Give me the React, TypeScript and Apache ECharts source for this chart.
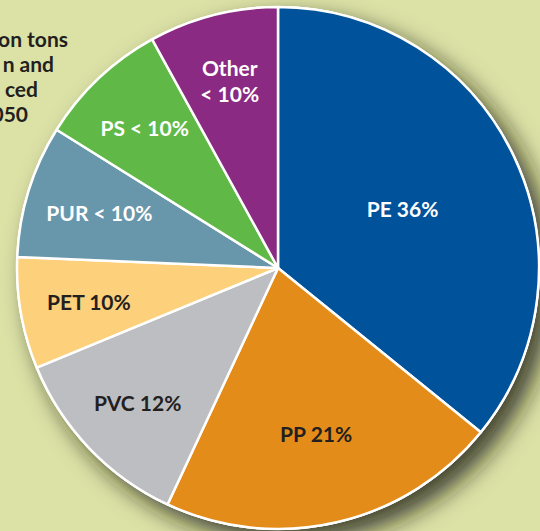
import React, { useEffect, useRef } from "react";
import * as echarts from "echarts";

const categories = ["PE", "PP", "PVC", "PET", "PUR", "PS", "Other"];
const values = [35.8, 21.1, 11.8, 6.9, 8.2, 8.1, 8.0];
const labelTexts = ["PE 36%", "PP 21%", "PVC 12%", "PET 10%", "PUR < 10%", "PS < 10%", "Other\n< 10%"];
const noteLines = ["on tons", "n and", "ced", "050"];

const colors = ["#00529b", "#e38c1a", "#bdbec2", "#fdd07b", "#6896ab", "#60b946", "#8a2a82"];
const labelColors = ["#ffffff", "#231f20", "#231f20", "#231f20", "#ffffff", "#ffffff", "#ffffff"];
const labelRadius = [138, 170, 194, 192, 187, 194, 194];

const CX = 278;
const CY = 268;
const R = 261;

export default function App() {
  const ref = useRef<HTMLDivElement>(null);
  useEffect(() => {
    if (!ref.current) return;
    const chart = echarts.init(ref.current, undefined, { renderer: "svg" });
    const total = values.reduce((a, b) => a + b, 0);
    const mids: number[] = [];
    let acc = 0;
    values.forEach((v) => {
      mids.push(((acc + v / 2) / total) * 2 * Math.PI);
      acc += v;
    });
    const noteRight = [68, 54, 38, 28];
    const noteBase = [49, 74, 99, 124];
    chart.setOption({
      animation: false,
      backgroundColor: "#dce2a6",
      graphic: noteLines.map((t, i) => ({
        type: "text",
        x: noteRight[i],
        y: noteBase[i],
        style: {
          text: t,
          align: "right",
          verticalAlign: "bottom",
          fill: "#231f20",
          font: "bold 21px Lato",
        },
      })),
      series: [
        {
          type: "pie",
          silent: true,
          z: 1,
          center: [CX, CY],
          radius: R + 1,
          label: { show: false },
          labelLine: { show: false },
          data: [{ value: 1, itemStyle: { color: "#ffffff" } }],
          itemStyle: {
            shadowBlur: 24,
            shadowOffsetX: 12,
            shadowOffsetY: 12,
            shadowColor: "rgba(30,30,10,0.8)",
          },
        },
        {
          type: "pie",
          z: 2,
          center: [CX, CY],
          radius: R,
          startAngle: 90,
          clockwise: true,
          itemStyle: { borderColor: "#ffffff", borderWidth: 2.5 },
          label: {
            show: true,
            position: "inside",
            fontFamily: "Lato",
            fontWeight: "bold",
            fontSize: 21,
            lineHeight: 26,
            align: "center",
          },
          labelLine: { show: false },
          labelLayout: (params: any) => {
            const i = params.dataIndex;
            const a = mids[i];
            const r = labelRadius[i];
            return {
              x: CX + r * Math.sin(a),
              y: CY - r * Math.cos(a),
              align: "center",
              verticalAlign: "middle",
            };
          },
          data: categories.map((c, i) => ({
            name: c,
            value: values[i],
            itemStyle: { color: colors[i] },
            label: { formatter: labelTexts[i], color: labelColors[i] },
          })),
        },
      ],
    });
    return () => chart.dispose();
  }, []);
  return (
    <div
      ref={ref}
      style={{ position: "fixed", left: 0, top: 0, width: 540, height: 531 }}
    />
  );
}
